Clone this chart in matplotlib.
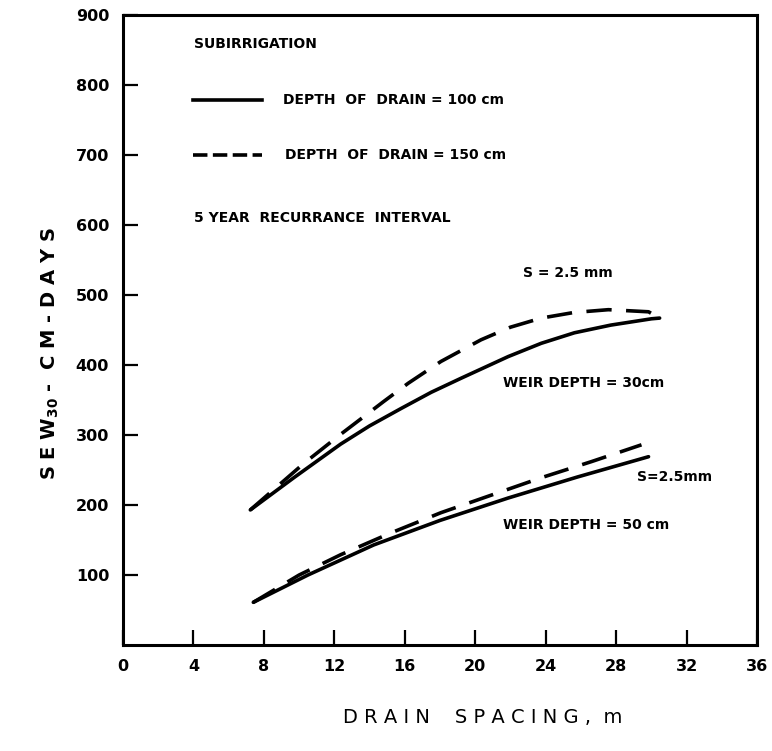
import matplotlib
matplotlib.use("Agg")
import matplotlib.pyplot as plt

# Data
x_up_solid = [7.23, 9.7, 12.36, 14.0, 15.8, 17.5, 19.19, 21.87, 23.75, 25.63, 27.7, 30.01, 30.47]
y_up_solid = [193, 239, 287, 313, 338, 361, 381, 412, 431, 446, 457, 466, 467]
x_up_dash = [7.23, 10.25, 12.36, 14.81, 16.2, 18.05, 20.33, 22.0, 23.75, 25.6, 27.56, 29.84, 30.47]
y_up_dash = [193, 259, 301, 348, 374, 405, 436, 454, 467, 475, 479, 476, 467]
x_lo_solid = [7.40, 10.5, 14.24, 18.0, 21.87, 25.8, 29.84]
y_lo_solid = [61, 100, 143, 178, 210, 240, 269]
x_lo_dash = [7.40, 10.0, 12.36, 15.2, 18.05, 20.9, 23.75, 26.6, 29.44]
y_lo_dash = [61, 100, 129, 160, 189, 214, 239, 262, 286]

x_ticks = [0, 4, 8, 12, 16, 20, 24, 28, 32, 36]
y_ticks = [100, 200, 300, 400, 500, 600, 700, 800, 900]

plt.rcParams['font.family'] = ['DejaVu Sans']
fig = plt.figure(figsize=(7.72, 7.51), dpi=100)
ax = fig.add_axes([0.1593, 0.1411, 0.8213, 0.839])

lw = 2.6
ax.plot(x_up_solid, y_up_solid, color='black', lw=lw, solid_capstyle='round',
        solid_joinstyle='round')
ax.plot(x_up_dash, y_up_dash, color='black', lw=lw, dashes=(7, 4))
ax.plot(x_lo_solid, y_lo_solid, color='black', lw=lw, solid_capstyle='round',
        solid_joinstyle='round')
ax.plot(x_lo_dash, y_lo_dash, color='black', lw=lw, dashes=(7, 4))

ax.set_xlim(0, 36)
ax.set_ylim(0, 900)
ax.set_xticks(x_ticks)
ax.set_xticklabels([str(v) for v in x_ticks])
ax.set_yticks(y_ticks)
ax.set_yticklabels([str(v) for v in y_ticks])
ax.tick_params(direction='in', length=11, width=1.6, labelsize=11.5, pad=10)
for lab in ax.get_xticklabels() + ax.get_yticklabels():
    lab.set_fontweight('bold')
for s in ax.spines.values():
    s.set_linewidth(2.2)

tfont = dict(fontsize=10, fontweight='bold', color='black', va='center')
ax.text(4.05, 859, 'SUBIRRIGATION', **tfont)
ax.plot([4.0, 7.9], [779, 779], color='black', lw=lw)
ax.text(9.1, 779, 'DEPTH  OF  DRAIN = 100 cm', **tfont)
ax.plot([4.0, 7.9], [700, 700], color='black', lw=lw, dashes=(4, 1.5))
ax.text(9.2, 700, 'DEPTH  OF  DRAIN = 150 cm', **tfont)
ax.text(4.05, 610, '5 YEAR  RECURRANCE  INTERVAL', **tfont)

ax.text(22.7, 531, 'S = 2.5 mm', **tfont)
ax.text(21.6, 374, 'WEIR DEPTH = 30cm', **tfont)
ax.text(29.2, 240, 'S=2.5mm', **tfont)
ax.text(21.6, 171, 'WEIR DEPTH = 50 cm', **tfont)

fig.text(0.065, 0.53, r'S E W$_{\mathbf{30}}$ -  C M - D A Y S', rotation=90,
         fontsize=14, fontweight='bold', ha='center', va='center')
fig.text(0.625, 0.045, 'D R A I N    S P A C I N G ,  m', fontsize=14,
         ha='center', va='center')

fig.savefig('out.png', dpi=100)
